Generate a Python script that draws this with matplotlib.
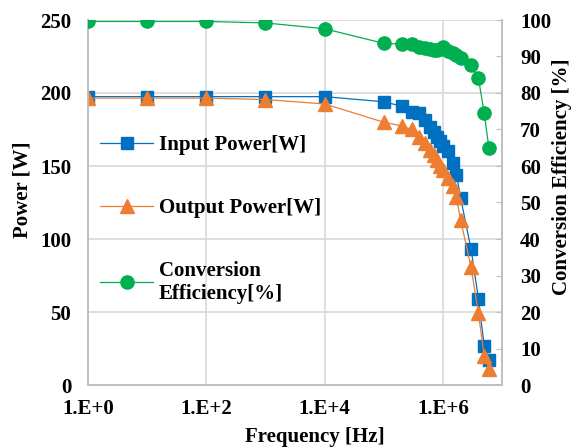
import numpy as np
import matplotlib
matplotlib.use("Agg")
import matplotlib.pyplot as plt

# data
freq = [1, 10, 100, 1e3, 1e4,
        1e5, 2e5, 3e5, 4e5, 5e5, 6e5, 7e5, 8e5, 9e5, 1e6,
        1.2e6, 1.5e6, 1.7e6, 2e6, 3e6, 4e6, 5e6, 6e6]
input_power = [197.5, 197.5, 197.5, 197.5, 197.5,
               194, 191, 187, 186, 181.5, 177, 173, 170, 167, 164,
               160, 152, 144, 128, 93, 59, 27, 17]
output_power = [196.5, 196.5, 196.5, 195.5, 192.5,
                180, 177.5, 175, 170, 165.5, 161, 157.5, 154, 150, 147,
                141.5, 136, 128.5, 113, 80.6, 49, 20, 10.7]
efficiency = [99.6, 99.6, 99.6, 99.2, 97.6,
              93.6, 93.4, 93.3, 92.7, 92.3, 92.0, 91.8, 91.7, 92.0, 92.6,
              91.6, 91.0, 90.4, 89.5, 87.7, 84, 74.5, 65]

xticks = [1, 1e2, 1e4, 1e6]
xtick_labels = ["1.E+0", "1.E+2", "1.E+4", "1.E+6"]

plt.rcParams['font.family'] = ['Liberation Serif', 'DejaVu Serif']
plt.rcParams['font.weight'] = 'bold'
plt.rcParams['font.size'] = 15

blue = '#0070C0'
orange = '#ED7D31'
green = '#00B050'
gray = '#BFBFBF'

fig = plt.figure(figsize=(5.81, 4.48), dpi=100)
ax = fig.add_axes([88/581, 1-385/448, (502-88)/581, (385-20)/448])
ax2 = ax.twinx()

l1, = ax.plot(freq, input_power, color=blue, marker='s', markersize=8.5,
              linewidth=0.9, label='Input Power[W]', zorder=3)
l2, = ax.plot(freq, output_power, color=orange, marker='^', markersize=9.5,
              linewidth=0.9, label='Output Power[W]', zorder=3)
l3, = ax2.plot(freq, efficiency, color=green, marker='o', markersize=9.5,
               linewidth=0.9, label='Conversion\nEfficiency[%]', zorder=3)

ax.set_xscale('log')
ax.set_xlim(1, 1e7)
ax.set_ylim(0, 250)
ax2.set_ylim(0, 100)
ax.set_xticks(xticks)
ax.set_xticklabels(xtick_labels)
ax.xaxis.set_minor_locator(matplotlib.ticker.NullLocator())
ax.set_yticks(np.arange(0, 251, 50))
ax2.set_yticks(np.arange(0, 101, 10))

ax.grid(True, color='#D9D9D9', linewidth=1.2)
ax.set_axisbelow(True)

for a in (ax, ax2):
    for s in a.spines.values():
        s.set_color(gray)
        s.set_linewidth(1.2)
    a.spines['top'].set_visible(False)

ax.tick_params(axis='x', length=0, pad=10)
ax.tick_params(axis='y', length=0, pad=12)
ax2.tick_params(axis='y', direction='in', length=4, color=gray, pad=13)

ax.set_xlabel('Frequency [Hz]', fontweight='bold')
ax.set_ylabel('Power [W]', fontweight='bold')
ax2.set_ylabel('Conversion Efficiency [%]', fontweight='bold')
ax.xaxis.set_label_coords(0.548, -0.115)
ax.yaxis.set_label_coords(-0.133, 0.534)
ax2.yaxis.set_label_coords(1.121, 0.57)

ax2.legend(handles=[l1, l2, l3], loc='upper left', bbox_to_anchor=(0.01, 0.707),
           frameon=False, labelspacing=2.05, handlelength=2.5, handletextpad=0.3,
           borderaxespad=0)

fig.savefig('out.png', dpi=100)
plt.close()
